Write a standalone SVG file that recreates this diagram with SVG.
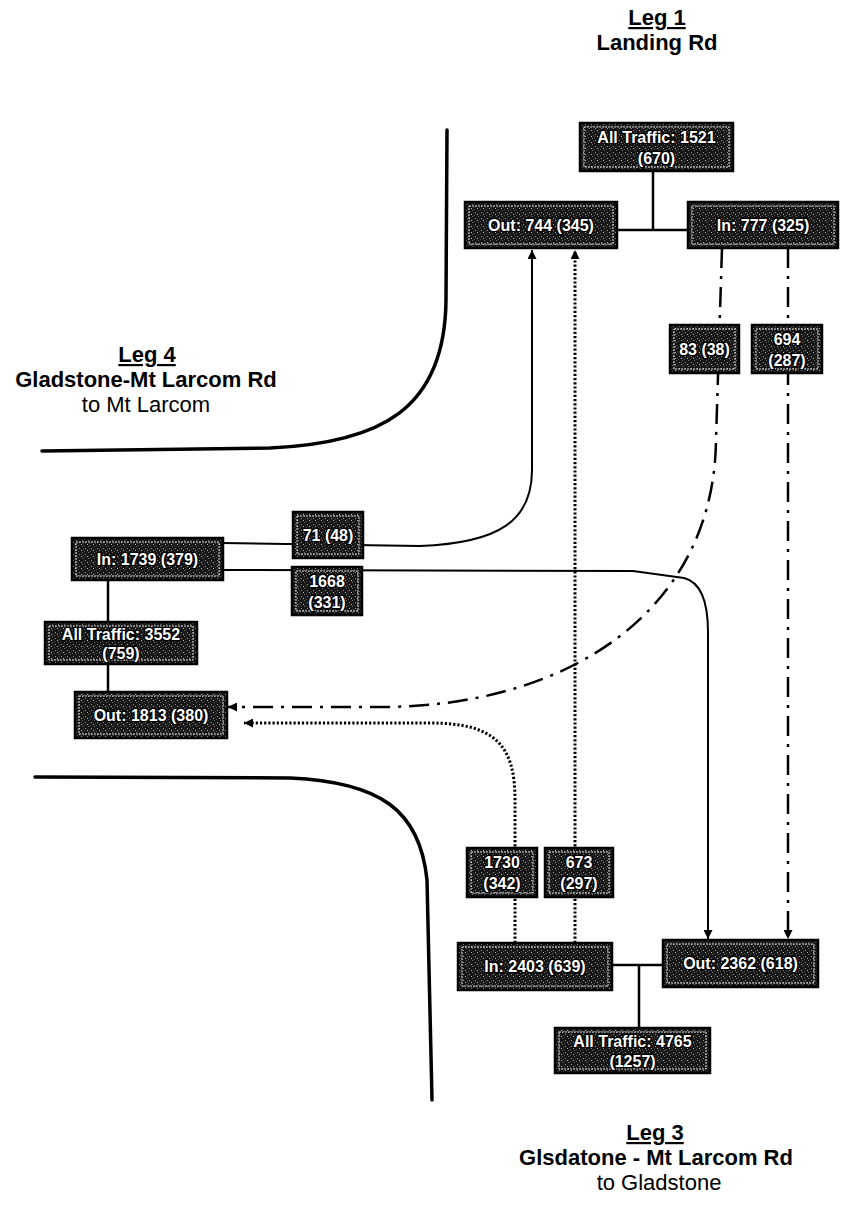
<svg xmlns="http://www.w3.org/2000/svg" width="846" height="1205" viewBox="0 0 846 1205">
<style>
.hd{font-family:"Liberation Sans",Arial,sans-serif;font-size:22px;font-weight:bold;fill:#000;text-anchor:middle}
.hn{font-family:"Liberation Sans",Arial,sans-serif;font-size:22px;fill:#000;text-anchor:middle}
.ul{text-decoration:underline}
.box{fill:url(#stip);stroke:#000;stroke-width:2.5}
.inner{fill:none;stroke:#fff;stroke-width:1;stroke-dasharray:2 1;opacity:0.85}
.bt{font-family:"Liberation Sans",Arial,sans-serif;font-size:16px;font-weight:bold;fill:#fff;stroke:#000;stroke-width:2.5;paint-order:stroke;text-anchor:middle}
.road{fill:none;stroke:#000;stroke-width:3.5;stroke-linecap:round}
.link{fill:none;stroke:#000;stroke-width:2.5}
.solid{fill:none;stroke:#000;stroke-width:2}
.dashdot{fill:none;stroke:#000;stroke-width:2.5;stroke-dasharray:20 8 3 8}
.dotted{fill:none;stroke:#000;stroke-width:3;stroke-dasharray:2.2 2}
</style>
<defs>
<pattern id="stip" width="6" height="6" patternUnits="userSpaceOnUse">
<rect width="6" height="6" fill="#161616"/>
<rect x="1" y="2" width="1" height="1" fill="#9a9a9a"/>
<rect x="4" y="0" width="1" height="1" fill="#6a6a6a"/>
<rect x="3" y="4" width="1" height="1" fill="#bbbbbb"/>
<rect x="0" y="5" width="1" height="1" fill="#555555"/>
<rect x="5" y="3" width="1" height="1" fill="#444444"/>
</pattern>
<marker id="arr" viewBox="0 0 10 10" refX="10" refY="5" markerWidth="9" markerHeight="9" markerUnits="userSpaceOnUse" orient="auto">
<path d="M0,0 L10,5 L0,10 z" fill="#000"/>
</marker>
</defs>
<rect width="846" height="1205" fill="#fff"/>

<g id="roads">
<path class="road" d="M42,451 L270,448 C380,443 445,410 446,300 L447,130"/>
<path class="road" d="M35,777 L290,778 C380,782 420,810 427,880 L432,1100"/>
</g>

<g id="labels">
<text class="hd ul" x="657" y="25">Leg 1</text>
<text class="hd" x="657" y="50">Landing Rd</text>
<text class="hd ul" x="147" y="362">Leg 4</text>
<text class="hd" x="146" y="387">Gladstone-Mt Larcom Rd</text>
<text class="hn" x="146" y="412">to Mt Larcom</text>
<text class="hd ul" x="655" y="1140">Leg 3</text>
<text class="hd" x="656" y="1165">Glsdatone - Mt Larcom Rd</text>
<text class="hn" x="659" y="1190">to Gladstone</text>
</g>

<g id="connectors">
<path class="link" d="M653,171 L653,230 M617,230 L688,230"/>
<path class="link" d="M108,580 L108,622 M108,664 L108,692"/>
<path class="link" d="M612,965 L663,965 M639,965 L639,1028"/>
<path class="solid" marker-end="url(#arr)" d="M223,543 L420,546 C500,543 532,520 532,470 L532,250"/>
<path class="solid" marker-end="url(#arr)" d="M223,570 L633,571 L684,578 C700,582 708,600 708,632 L708,939"/>
<path class="dashdot" marker-end="url(#arr)" d="M722,248 L716,440 C714,610 570,707 380,707 L228,707"/>
<path class="dashdot" marker-end="url(#arr)" d="M788,248 L788,939"/>
<path class="dotted" marker-end="url(#arr)" d="M515,943 L515,800 C515,745 495,723 430,723 L244,723"/>
<path class="dotted" marker-end="url(#arr)" d="M575,943 L575,250"/>
</g>

<g id="at1"><rect class="box" x="580" y="123" width="153" height="48"/><rect class="inner" x="584" y="127" width="145" height="40"/><text class="bt" x="656.5" y="143">All Traffic: 1521</text><text class="bt" x="656.5" y="164">(670)</text></g>
<g id="out1"><rect class="box" x="465" y="202" width="152" height="46"/><rect class="inner" x="469" y="206" width="144" height="38"/><text class="bt" x="541" y="231">Out: 744 (345)</text></g>
<g id="in1"><rect class="box" x="688" y="202" width="150" height="46"/><rect class="inner" x="692" y="206" width="142" height="38"/><text class="bt" x="763" y="231">In: 777 (325)</text></g>
<g id="l83"><rect class="box" x="670" y="325" width="69" height="48"/><rect class="inner" x="674" y="329" width="61" height="40"/><text class="bt" x="704.5" y="355">83 (38)</text></g>
<g id="l694"><rect class="box" x="752" y="325" width="70" height="48"/><rect class="inner" x="756" y="329" width="62" height="40"/><text class="bt" x="787" y="345">694</text><text class="bt" x="787" y="366">(287)</text></g>
<g id="l71"><rect class="box" x="293" y="512" width="70" height="46"/><rect class="inner" x="297" y="516" width="62" height="38"/><text class="bt" x="328" y="541">71 (48)</text></g>
<g id="l1668"><rect class="box" x="292" y="567" width="70" height="48"/><rect class="inner" x="296" y="571" width="62" height="40"/><text class="bt" x="327" y="587">1668</text><text class="bt" x="327" y="608">(331)</text></g>
<g id="in4"><rect class="box" x="72" y="538" width="151" height="42"/><rect class="inner" x="76" y="542" width="143" height="34"/><text class="bt" x="147.5" y="565">In: 1739 (379)</text></g>
<g id="at4"><rect class="box" x="45" y="622" width="152" height="42"/><rect class="inner" x="49" y="626" width="144" height="34"/><text class="bt" x="121" y="640">All Traffic: 3552</text><text class="bt" x="121" y="659">(759)</text></g>
<g id="out4"><rect class="box" x="75" y="692" width="152" height="46"/><rect class="inner" x="79" y="696" width="144" height="38"/><text class="bt" x="151" y="721">Out: 1813 (380)</text></g>
<g id="l1730"><rect class="box" x="467" y="848" width="70" height="49"/><rect class="inner" x="471" y="852" width="62" height="41"/><text class="bt" x="502" y="868">1730</text><text class="bt" x="502" y="889">(342)</text></g>
<g id="l673"><rect class="box" x="545" y="848" width="68" height="49"/><rect class="inner" x="549" y="852" width="60" height="41"/><text class="bt" x="579" y="868">673</text><text class="bt" x="579" y="889">(297)</text></g>
<g id="in3"><rect class="box" x="458" y="943" width="154" height="47"/><rect class="inner" x="462" y="947" width="146" height="39"/><text class="bt" x="535" y="972">In: 2403 (639)</text></g>
<g id="out3"><rect class="box" x="663" y="940" width="155" height="47"/><rect class="inner" x="667" y="944" width="147" height="39"/><text class="bt" x="740.5" y="969">Out: 2362 (618)</text></g>
<g id="at3"><rect class="box" x="555" y="1028" width="155" height="45"/><rect class="inner" x="559" y="1032" width="147" height="37"/><text class="bt" x="632.5" y="1047">All Traffic: 4765</text><text class="bt" x="632.5" y="1067">(1257)</text></g>
</svg>
